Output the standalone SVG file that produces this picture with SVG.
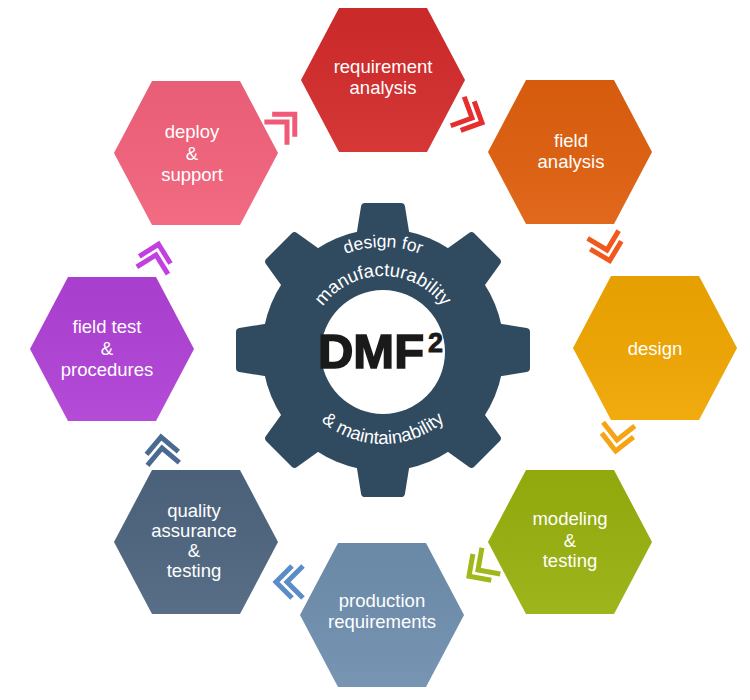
<svg xmlns="http://www.w3.org/2000/svg" xmlns:xlink="http://www.w3.org/1999/xlink" width="750" height="700" viewBox="0 0 750 700">
<defs>
<style>
.lbl{font-family:"Liberation Sans",Arial,sans-serif;font-size:18.5px;fill:#ffffff;text-anchor:middle}
.gt{font-family:"Liberation Sans",Arial,sans-serif;font-size:17.5px;fill:#ffffff;text-anchor:middle}
.chev{fill:none;stroke-width:5;stroke-linejoin:miter}
</style>
<polygon id="hex" points="-82,0 -44,-72 44,-72 82,0 44,72 -44,72"/>
<path id="chev" d="M-16,-16 L0,0 L-16,16 M-5,-16 L11,0 L-5,16"/>
<path id="arcDesign" d="M280,350 A103,103 0 0 1 486,350"/>
<path id="arcManu" d="M309,350 A74,74 0 0 1 457,350"/>
<path id="arcMaint" d="M289,350 A94,94 0 0 0 477,350"/>
<linearGradient id="shade" x1="0" y1="0" x2="0" y2="1">
<stop offset="0" stop-color="#000" stop-opacity="0.04"/>
<stop offset="1" stop-color="#fff" stop-opacity="0.06"/>
</linearGradient>
</defs>
<rect width="750" height="700" fill="#ffffff"/>

<g id="gear">
<circle cx="383" cy="350" r="121" fill="#304a5f"/>
<g fill="#304a5f" stroke="#304a5f" stroke-width="8" stroke-linejoin="round">
<polygon points="-23,-112 23,-112 18,-143 -18,-143" transform="translate(383,350) rotate(0)"/>
<polygon points="-23,-112 23,-112 18,-143 -18,-143" transform="translate(383,350) rotate(45)"/>
<polygon points="-23,-112 23,-112 18,-143 -18,-143" transform="translate(383,350) rotate(90)"/>
<polygon points="-23,-112 23,-112 18,-143 -18,-143" transform="translate(383,350) rotate(135)"/>
<polygon points="-23,-112 23,-112 18,-143 -18,-143" transform="translate(383,350) rotate(180)"/>
<polygon points="-23,-112 23,-112 18,-143 -18,-143" transform="translate(383,350) rotate(225)"/>
<polygon points="-23,-112 23,-112 18,-143 -18,-143" transform="translate(383,350) rotate(270)"/>
<polygon points="-23,-112 23,-112 18,-143 -18,-143" transform="translate(383,350) rotate(315)"/>
</g>
<circle cx="383" cy="352" r="62" fill="#ffffff"/>
<text class="gt"><textPath href="#arcDesign" startOffset="50%">design for</textPath></text>
<text class="gt" style="font-size:18.5px"><textPath href="#arcManu" startOffset="50%">manufacturability</textPath></text>
<text class="gt" style="font-size:18.5px"><textPath href="#arcMaint" startOffset="50%">&amp; maintainability</textPath></text>
<text x="371" y="368" font-family="'Liberation Sans',Arial,sans-serif" font-weight="bold" font-size="49" fill="#1a1a1a" stroke="#1a1a1a" stroke-width="1.6" text-anchor="middle">DMF</text>
<text x="428" y="352" font-family="'Liberation Sans',Arial,sans-serif" font-weight="bold" font-size="27" fill="#1a1a1a" stroke="#1a1a1a" stroke-width="0.8">2</text>
</g>

<g id="n-requirement">
<use href="#hex" x="383" y="80" fill="#d32b2b"/>
<use href="#hex" x="383" y="80" fill="url(#shade)"/>
<text class="lbl" x="383" y="73">requirement</text>
<text class="lbl" x="383" y="94">analysis</text>
</g>
<g id="n-field-analysis">
<use href="#hex" x="570" y="152" fill="#df5f0e"/>
<use href="#hex" x="570" y="152" fill="url(#shade)"/>
<text class="lbl" x="571" y="147">field</text>
<text class="lbl" x="571" y="168">analysis</text>
</g>
<g id="n-design">
<use href="#hex" x="655" y="348" fill="#f0a600"/>
<use href="#hex" x="655" y="348" fill="url(#shade)"/>
<text class="lbl" x="655" y="355">design</text>
</g>
<g id="n-modeling">
<use href="#hex" x="570" y="542" fill="#98b00e"/>
<use href="#hex" x="570" y="542" fill="url(#shade)"/>
<text class="lbl" x="570" y="525">modeling</text>
<text class="lbl" x="570" y="547">&amp;</text>
<text class="lbl" x="570" y="567">testing</text>
</g>
<g id="n-production">
<use href="#hex" x="382" y="615" fill="#6f8fae"/>
<use href="#hex" x="382" y="615" fill="url(#shade)"/>
<text class="lbl" x="382" y="607">production</text>
<text class="lbl" x="382" y="628">requirements</text>
</g>
<g id="n-quality">
<use href="#hex" x="196" y="542" fill="#4e657f"/>
<use href="#hex" x="196" y="542" fill="url(#shade)"/>
<text class="lbl" x="194" y="517">quality</text>
<text class="lbl" x="194" y="537">assurance</text>
<text class="lbl" x="194" y="557">&amp;</text>
<text class="lbl" x="194" y="577">testing</text>
</g>
<g id="n-field-test">
<use href="#hex" x="112" y="349" fill="#b041d6"/>
<use href="#hex" x="112" y="349" fill="url(#shade)"/>
<text class="lbl" x="107" y="333">field test</text>
<text class="lbl" x="107" y="355">&amp;</text>
<text class="lbl" x="107" y="376">procedures</text>
</g>
<g id="n-deploy">
<use href="#hex" x="196" y="153" fill="#f2627b"/>
<use href="#hex" x="196" y="153" fill="url(#shade)"/>
<text class="lbl" x="192" y="138">deploy</text>
<text class="lbl" x="192" y="160">&amp;</text>
<text class="lbl" x="192" y="181">support</text>
</g>

<g id="connectors">
<use href="#chev" class="chev" stroke="#f05a78" transform="translate(287,122) rotate(-45)"/>
<use href="#chev" class="chev" stroke="#e52f2f" transform="translate(472,118) rotate(25)"/>
<use href="#chev" class="chev" stroke="#f0581c" transform="translate(607,250) rotate(76)"/>
<use href="#chev" class="chev" stroke="#f6a413" transform="translate(617,440) rotate(97)"/>
<use href="#chev" class="chev" stroke="#a2b81a" transform="translate(478,570) rotate(145)"/>
<use href="#chev" class="chev" stroke="#5a8cc8" transform="translate(287,582) rotate(180)"/>
<use href="#chev" class="chev" stroke="#4a6a92" transform="translate(162,448) rotate(-95)"/>
<use href="#chev" class="chev" stroke="#c23fe2" transform="translate(156,255) rotate(-77)"/>
</g>
</svg>
